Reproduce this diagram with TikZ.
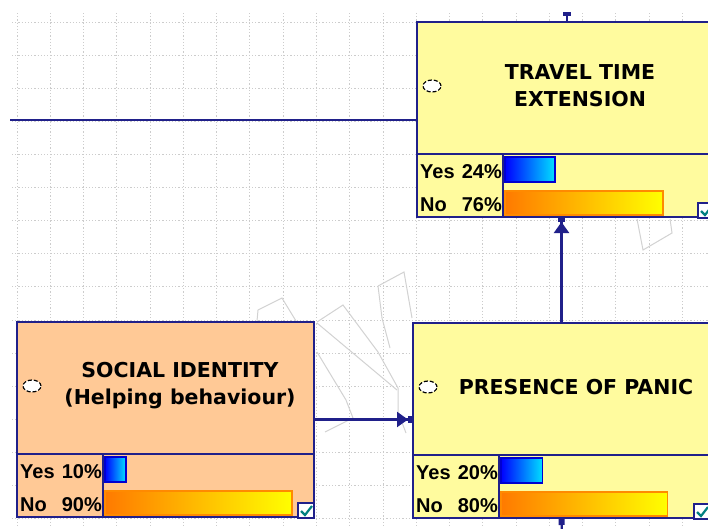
\documentclass[tikz,border=0pt]{standalone}
\usepackage{fontspec}
\newfontfamily\titlefont{DejaVu Sans}
\newfontfamily\statefont{Liberation Sans}
\usetikzlibrary{arrows.meta}
\definecolor{bnNavy}{HTML}{20208A}
\definecolor{bnYellow}{HTML}{FFFB9E}
\definecolor{bnPeach}{HTML}{FFC996}
\definecolor{bnBlue}{HTML}{0000FF}
\definecolor{bnCyan}{HTML}{00E0FF}
\definecolor{bnBlueEdge}{HTML}{0000D0}
\definecolor{bnOrange}{HTML}{FF7A00}
\definecolor{bnLemon}{HTML}{FFFF00}
\definecolor{bnOrangeEdge}{HTML}{FF8A00}
\definecolor{bnTeal}{HTML}{008080}

\begin{document}
\begin{tikzpicture}[x=1pt, y=-1pt,
  gridline/.style={draw=gray!40, line width=0.8pt, dash pattern=on 1.2pt off 2pt},
  wmark/.style={draw=gray!35, line width=1pt},
  bnbox/.style={draw=bnNavy, line width=2.2pt, outer sep=0pt, inner sep=0pt,
    minimum width=297pt, minimum height=195pt, anchor=north west},
  bnline/.style={draw=bnNavy, line width=2.2pt},
  bntitle/.style={font=\titlefont\bfseries\fontsize{20.5}{27}\selectfont, align=center, inner sep=0pt},
  stxt/.style={font=\statefont\bfseries\fontsize{20}{22}\selectfont, inner sep=0pt},
  yesbar/.style={draw=bnBlueEdge, line width=1.6pt, left color=bnBlue, right color=bnCyan},
  nobar/.style={draw=bnOrangeEdge, line width=1.6pt, left color=bnOrange, right color=bnLemon},
  link/.style={draw=bnNavy, line width=2.2pt},
  headtip/.style={-{Triangle[length=11pt,width=15pt]Rectangle[length=5pt,width=7pt]}}]
  \useasboundingbox (0,0) rectangle (708,528);
  \clip (0,0) rectangle (708,528);
  \fill[white] (0,0) rectangle (708,528);
  % grid
  \foreach \i in {0,...,21} \draw[gridline] (17+\i*33.27,13) -- (17+\i*33.27,528);
  \foreach \j in {0,...,15} \draw[gridline] (12,22+\j*33.1) -- (708,22+\j*33.1);
  % watermark
  \draw[wmark] (257,321) -- (258,310) -- (282,298) -- (296,321);
  \draw[wmark] (317,322) -- (343,305) -- (378,352) -- (398,388) -- (398,412) -- (406,433);
  \draw[wmark] (317,323) -- (397,390);
  \draw[wmark] (317,352) -- (346,400) -- (353,418) -- (325,432);
  \draw[wmark] (378,286) -- (404,272) -- (412,318);
  \draw[wmark] (378,286) -- (382,318) -- (390,348);
  \draw[wmark] (637,219) -- (643,250) -- (672,233) -- (670,219);
  % nodes
  \foreach \nm/\x/\y/\col/\txt/\yes/\no in {
      travel/417/22/bnYellow/{TRAVEL TIME\\EXTENSION}/24/76,
      social/17/322/bnPeach/{SOCIAL IDENTITY\\(Helping behaviour)}/10/90,
      panic/413/323/bnYellow/{PRESENCE OF PANIC}/20/80} {
    \begin{scope}[shift={(\x,\y)}]
      \node[bnbox, fill=\col] (\nm) at (0,0) {};
      \draw[bnline] (0,132) -- (297,132) (86,132) -- (86,195);
      \draw[fill=white, line width=1.2pt, dash pattern=on 4pt off 2pt] (15,64) ellipse [x radius=9pt, y radius=6pt];
      \node[bntitle] (\nm-title) at (163,64) {\txt};
      \node[stxt, anchor=base west] (\nm-yes) at (3,156) {Yes};
      \node[stxt, anchor=base east] (\nm-yesp) at (85,156) {\yes\%};
      \node[stxt, anchor=base west] (\nm-no) at (3,189) {No};
      \node[stxt, anchor=base east] (\nm-nop) at (85,189) {\no\%};
      \draw[yesbar] (88,135) rectangle ++(\yes*2.08,25);
      \draw[nobar] (88,169) rectangle ++(\no*2.08,24);
      \draw[bnline, line width=1.8pt, fill=white] (281,181) rectangle (297,196);
      \draw[bnTeal, line width=2.2pt] (284,189) -- (288,193) -- (295,184);
    \end{scope}
  }
  % links
  \coordinate (feed) at (10,120);
  \coordinate (topin) at (567,12);
  \coordinate (outlet) at (562,540);
  \draw[link] (feed) -- (feed -| travel.west);
  \draw[link, {Rectangle[length=3.5pt,width=8pt]}-] (topin) -- (topin |- travel.north);
  \draw[link, headtip] (social.east) -- (social.east -| panic.west);
  \draw[link, headtip] (panic.north) -- (panic.north |- travel.south);
  \draw[link, {Rectangle[length=7pt,width=6pt]}-] (panic.south) -- (outlet);
\end{tikzpicture}
\end{document}
